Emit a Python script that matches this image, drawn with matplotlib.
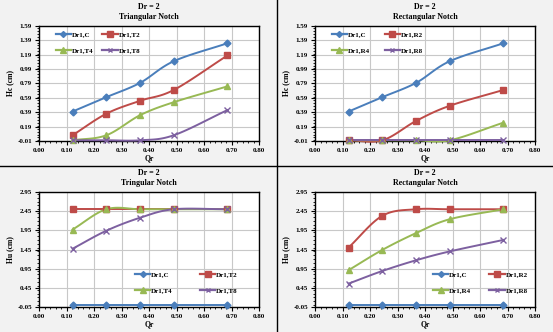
import numpy as np
import matplotlib
matplotlib.use("Agg")
import matplotlib.pyplot as plt
from matplotlib.lines import Line2D
from matplotlib.ticker import MultipleLocator

plt.rcParams['font.family'] = ['Liberation Serif', 'DejaVu Serif']
plt.rcParams['font.weight'] = 'bold'

qr = [0.122, 0.245, 0.368, 0.490, 0.685]

# Panel 1: Triangular notch, Hc
hc_c = [0.40, 0.60, 0.80, 1.10, 1.35]
hc_t2 = [0.07, 0.37, 0.55, 0.70, 1.18]
hc_t4 = [0.00, 0.07, 0.35, 0.53, 0.75]
hc_t8 = [0.00, 0.00, 0.00, 0.07, 0.42]
# Panel 2: Rectangular notch, Hc
hc_r2 = [0.00, 0.00, 0.27, 0.48, 0.70]
hc_r4 = [0.00, 0.00, 0.00, 0.00, 0.245]
hc_r8 = [0.00, 0.00, 0.00, 0.00, 0.00]
# Panel 3: Triangular notch, Hu
hu_c = [0.0, 0.0, 0.0, 0.0, 0.0]
hu_t2 = [2.50, 2.50, 2.50, 2.50, 2.50]
hu_t4 = [1.97, 2.50, 2.50, 2.50, 2.50]
hu_t8 = [1.47, 1.94, 2.28, 2.50, 2.50]
# Panel 4: Rectangular notch, Hu
hu_r2 = [1.50, 2.33, 2.50, 2.50, 2.50]
hu_r4 = [0.91, 1.44, 1.88, 2.24, 2.50]
hu_r8 = [0.56, 0.89, 1.17, 1.40, 1.70]

x_ticks = [0.0, 0.1, 0.2, 0.3, 0.4, 0.5, 0.6, 0.7, 0.8]
hc_ticks = [-0.01, 0.19, 0.39, 0.59, 0.79, 0.99, 1.19, 1.39, 1.59]
hu_ticks = [-0.05, 0.45, 0.95, 1.45, 1.95, 2.45, 2.95]

BLUE = '#4A7EBB'
RED = '#BE4B48'
GREEN = '#98B954'
PURPLE = '#7D60A0'


def smooth(x, y, n=20):
    x = np.asarray(x, float)
    y = np.asarray(y, float)
    px = np.concatenate([[2 * x[0] - x[1]], x, [2 * x[-1] - x[-2]]])
    py = np.concatenate([[2 * y[0] - y[1]], y, [2 * y[-1] - y[-2]]])
    xs, ys = [], []
    for i in range(1, len(px) - 2):
        p0, p1, p2, p3 = (np.array([px[j], py[j]]) for j in range(i - 1, i + 3))
        c1 = p1 + (p2 - p0) / 6.0
        c2 = p2 - (p3 - p1) / 6.0
        t = np.linspace(0, 1, n)[:, None]
        b = ((1 - t) ** 3) * p1 + 3 * ((1 - t) ** 2) * t * c1 + 3 * (1 - t) * t ** 2 * c2 + t ** 3 * p2
        xs.append(b[:, 0])
        ys.append(b[:, 1])
    return np.concatenate(xs), np.concatenate(ys)


W, H = 553, 332
fig = plt.figure(figsize=(W / 100, H / 100), dpi=100)
fig.patch.set_facecolor('#F2F2F2')

markers = {'C': ('D', 3.5), 'sq': ('s', 4.5), 'tri': ('^', 4.5), 'x': ('x', 4.0)}


def make_panel(ox, oy, title, ylabel, yticks, series, leg_anchor, colspace):
    left = (ox + 39) / W
    bottom = 1 - (oy + 141) / H
    width = 220 / W
    height = 115 / H
    ax = fig.add_axes([left, bottom, width, height])
    ax.set_facecolor('white')
    handles = []
    for y, color, mk, label in series:
        m, ms = markers[mk]
        xs, ys = smooth(qr, y)
        ax.plot(xs, ys, color=color, lw=1.4, zorder=3, clip_on=False)
        ax.plot(qr, y, linestyle='none', marker=m, ms=ms, color=color,
                mec=color, mew=1.0, zorder=4, clip_on=False)
        handles.append(Line2D([0], [0], color=color, lw=1.6, marker=m, ms=ms - 0.5,
                              mec=color, mew=1.0, label=label))
    ax.set_xlim(0, 0.8)
    ax.set_ylim(yticks[0], yticks[-1])
    ax.set_xticks(x_ticks)
    ax.set_xticklabels([f'{v:.2f}' for v in x_ticks])
    ax.set_yticks(yticks)
    ax.set_yticklabels([f'{v:.2f}' for v in yticks])
    step = yticks[1] - yticks[0]
    ax.yaxis.set_minor_locator(MultipleLocator(step / 5))
    ax.xaxis.set_minor_locator(MultipleLocator(0.02))
    ax.grid(True, which='major', color='#C8C8C8', lw=0.8)
    ax.set_axisbelow(True)
    for s in ax.spines.values():
        s.set_color('black')
        s.set_linewidth(1.0)
    ax.tick_params(axis='both', which='major', labelsize=5, length=3,
                   width=0.8, direction='out', pad=2)
    ax.tick_params(axis='both', which='minor', length=1.5, width=0.6,
                   direction='out')
    for lab in ax.get_xticklabels() + ax.get_yticklabels():
        lab.set_fontweight('bold')
    ax.set_xlabel('Qr', fontsize=5.5, fontweight='bold', labelpad=1)
    ax.set_ylabel(ylabel, fontsize=5.5, fontweight='bold', labelpad=2)
    fig.text((ox + 149) / W, 1 - (oy + 7) / H, 'Dr = 2', ha='center', va='center',
             fontsize=5.8, fontweight='bold')
    fig.text((ox + 149) / W, 1 - (oy + 17) / H, title, ha='center', va='center',
             fontsize=5.8, fontweight='bold')
    order = [handles[0], handles[2], handles[1], handles[3]]
    leg = ax.legend(handles=order, loc='upper left', bbox_to_anchor=leg_anchor,
                    ncol=2, frameon=False, fontsize=5, handlelength=2.2,
                    columnspacing=colspace, labelspacing=1.45, borderaxespad=0,
                    borderpad=0, handletextpad=0.15)
    for t in leg.get_texts():
        t.set_fontweight('bold')
    return ax


make_panel(0, 0, 'Triangular Notch', 'Hc (cm)', hc_ticks,
           [(hc_c, BLUE, 'C', 'Dr1,C'), (hc_t2, RED, 'sq', 'Dr1,T2'),
            (hc_t4, GREEN, 'tri', 'Dr1,T4'), (hc_t8, PURPLE, 'x', 'Dr1,T8')],
           (0.075, 0.955), 1.3)
make_panel(276, 0, 'Rectangular Notch', 'Hc (cm)', hc_ticks,
           [(hc_c, BLUE, 'C', 'Dr1,C'), (hc_r2, RED, 'sq', 'Dr1,R2'),
            (hc_r4, GREEN, 'tri', 'Dr1,R4'), (hc_r8, PURPLE, 'x', 'Dr1,R8')],
           (0.075, 0.955), 2.1)
make_panel(0, 166, 'Tringular Notch', 'Hu (cm)', hu_ticks,
           [(hu_c, BLUE, 'C', 'Dr1,C'), (hu_t2, RED, 'sq', 'Dr1,T2'),
            (hu_t4, GREEN, 'tri', 'Dr1,T4'), (hu_t8, PURPLE, 'x', 'Dr1,T8')],
           (0.436, 0.31), 3.9)
make_panel(276, 166, 'Rectangular Notch', 'Hu (cm)', hu_ticks,
           [(hu_c, BLUE, 'C', 'Dr1,C'), (hu_r2, RED, 'sq', 'Dr1,R2'),
            (hu_r4, GREEN, 'tri', 'Dr1,R4'), (hu_r8, PURPLE, 'x', 'Dr1,R8')],
           (0.536, 0.31), 2.6)

# panel separators
fig.add_artist(Line2D([276.5 / W, 276.5 / W], [0, 1], color='black', lw=1.0))
fig.add_artist(Line2D([0, 1], [1 - 165.5 / H, 1 - 165.5 / H], color='black', lw=1.0))

fig.savefig('out.png', dpi=100, facecolor=fig.get_facecolor())
